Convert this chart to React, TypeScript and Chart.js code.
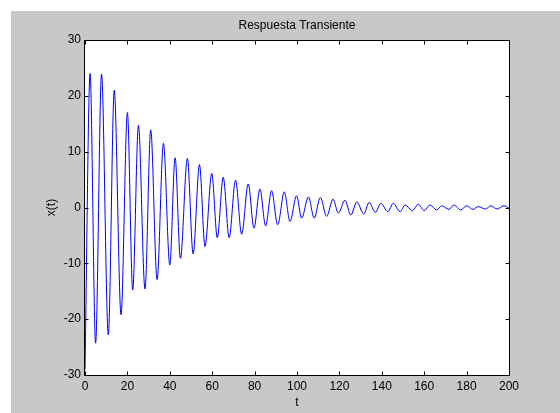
import React, { useEffect, useRef } from "react";
import { Chart, registerables } from "chart.js";

Chart.register(...registerables);

// Data (extremes of the damped response)
const startPoint = { t: 0, v: -29 };
const peakTimes = [2.4, 7.8, 13.8, 20, 25.2, 31, 37, 42.5, 48.3, 54, 59.8, 65.2, 71, 77, 82.5, 88, 94, 99.8, 105.4, 111, 117, 122.6, 128.2, 134, 139.5, 145.4, 151, 157.2, 162.7, 168.2, 174, 180, 185.5, 191.4, 197.6];
const peakValues = [24, 23.9, 21, 17, 14.7, 13.9, 11.5, 8.9, 8.8, 7.7, 6.1, 5.4, 4.9, 4.2, 3.3, 3.0, 2.8, 2.1, 1.9, 1.8, 1.5, 1.3, 1.0, 0.9, 0.75, 0.75, 0.45, 0.6, 0.45, 0.3, 0.45, 0.3, 0.15, 0.3, 0.3];
const troughTimes = [5.0, 11.0, 17.0, 22.5, 28.3, 34, 40, 45, 51, 56.6, 62.4, 68, 73.9, 79.7, 85.2, 90.9, 96.7, 102.2, 108.1, 114, 119.5, 125.4, 131.5, 137, 142.9, 148.6, 154.4, 160, 165.9, 171.7, 177.2, 183, 188.9, 194.3];
const troughValues = [-24.3, -22.8, -19.2, -14.8, -14.6, -12.9, -10.3, -9.1, -8.3, -7.0, -5.4, -5.4, -4.8, -3.7, -3.3, -3.1, -2.5, -1.9, -1.9, -1.6, -1.0, -1.35, -1.15, -0.87, -0.75, -0.75, -0.57, -0.57, -0.45, -0.33, -0.45, -0.33, -0.27, -0.27];
const endPoint = { t: 200, v: -0.1 };

const xTickValues = [0, 20, 40, 60, 80, 100, 120, 140, 160, 180, 200];
const yTickValues = [-30, -20, -10, 0, 10, 20, 30];

const titleText = "Respuesta Transiente";
const xLabel = "t";
const yLabel = "x(t)";

const FONT = '"Liberation Sans", Arial, Helvetica, sans-serif';
const GRAY = "#c8c8c8";

function buildPoints() {
  const pts: { x: number; y: number }[] = [{ x: startPoint.t, y: startPoint.v }];
  peakTimes.forEach((t, i) => pts.push({ x: t, y: peakValues[i] }));
  troughTimes.forEach((t, i) => pts.push({ x: t, y: troughValues[i] }));
  pts.push({ x: endPoint.t, y: endPoint.v });
  pts.sort((a, b) => a.x - b.x);
  return pts;
}

const framePlugin = {
  id: "matlabFrame",
  beforeDraw(chart: any) {
    const { ctx, chartArea } = chart;
    ctx.save();
    ctx.fillStyle = "#ffffff";
    ctx.fillRect(0, 0, chart.width, chart.height);
    ctx.fillStyle = GRAY;
    ctx.fillRect(11, 11, chart.width - 11, chart.height - 11);
    ctx.fillStyle = "#ffffff";
    ctx.fillRect(chartArea.left, chartArea.top, chartArea.right - chartArea.left, chartArea.bottom - chartArea.top);
    ctx.restore();
  },
  afterDraw(chart: any) {
    const { ctx, chartArea } = chart;
    const xs = chart.scales.x;
    const ys = chart.scales.y;
    const L = Math.round(chartArea.left) - 0.5;
    const R = Math.round(chartArea.right) + 0.5;
    const T = Math.round(chartArea.top) + 0.5;
    const B = Math.round(chartArea.bottom) + 0.5;
    ctx.save();
    ctx.strokeStyle = "#000000";
    ctx.lineWidth = 1;
    ctx.strokeRect(L, T, R - L, B - T);
    const tl = 4;
    ctx.beginPath();
    xTickValues.forEach((v) => {
      const px = Math.round(xs.getPixelForValue(v)) + 0.5;
      ctx.moveTo(px, B);
      ctx.lineTo(px, B - tl);
      ctx.moveTo(px, T);
      ctx.lineTo(px, T + tl);
    });
    yTickValues.forEach((v) => {
      const py = Math.round(ys.getPixelForValue(v)) + 0.5;
      ctx.moveTo(L, py);
      ctx.lineTo(L + tl, py);
      ctx.moveTo(R, py);
      ctx.lineTo(R - tl, py);
    });
    ctx.stroke();

    ctx.fillStyle = "#000000";
    ctx.font = `12px ${FONT}`;
    ctx.textAlign = "center";
    ctx.textBaseline = "middle";
    ctx.fillText(titleText, (chartArea.left + chartArea.right) / 2, 26);
    ctx.fillText(xLabel, (chartArea.left + chartArea.right) / 2, 403);
    ctx.translate(52, (chartArea.top + chartArea.bottom) / 2);
    ctx.rotate(-Math.PI / 2);
    ctx.fillText(yLabel, 0, 0);
    ctx.restore();
  },
};

export default function App() {
  const canvasRef = useRef<HTMLCanvasElement | null>(null);

  useEffect(() => {
    const canvas = canvasRef.current;
    if (!canvas) return;
    const chart = new Chart(canvas, {
      type: "line",
      data: {
        datasets: [
          {
            data: buildPoints(),
            borderColor: "#0000ff",
            borderWidth: 1,
            pointRadius: 0,
            fill: false,
            cubicInterpolationMode: "monotone",
          },
        ],
      },
      options: {
        animation: false,
        responsive: false,
        maintainAspectRatio: false,
        devicePixelRatio: 1,
        layout: { padding: { left: 0, right: 51, top: 40, bottom: 0 } },
        plugins: {
          legend: { display: false },
          title: { display: false },
          tooltip: { enabled: false },
        },
        scales: {
          x: {
            type: "linear",
            min: 0,
            max: 200,
            afterBuildTicks: (axis: any) => {
              axis.ticks = xTickValues.map((v) => ({ value: v }));
            },
            afterFit: (axis: any) => {
              axis.height = 38;
            },
            grid: { display: false, drawTicks: false },
            border: { display: false },
            ticks: {
              color: "#000000",
              font: { family: FONT, size: 12 },
              padding: 4,
              maxRotation: 0,
              autoSkip: false,
            },
          },
          y: {
            type: "linear",
            min: -30,
            max: 30,
            afterBuildTicks: (axis: any) => {
              axis.ticks = yTickValues.map((v) => ({ value: v }));
            },
            afterFit: (axis: any) => {
              axis.width = 85;
            },
            grid: { display: false, drawTicks: false },
            border: { display: false },
            ticks: {
              color: "#000000",
              font: { family: FONT, size: 12 },
              padding: 4,
              autoSkip: false,
            },
          },
        },
      },
      plugins: [framePlugin],
    } as any);
    return () => chart.destroy();
  }, []);

  return (
    <div style={{ position: "fixed", left: 0, top: 0, width: 560, height: 413, background: "#ffffff" }}>
      <canvas ref={canvasRef} width={560} height={413} style={{ width: 560, height: 413, display: "block" }} />
    </div>
  );
}
